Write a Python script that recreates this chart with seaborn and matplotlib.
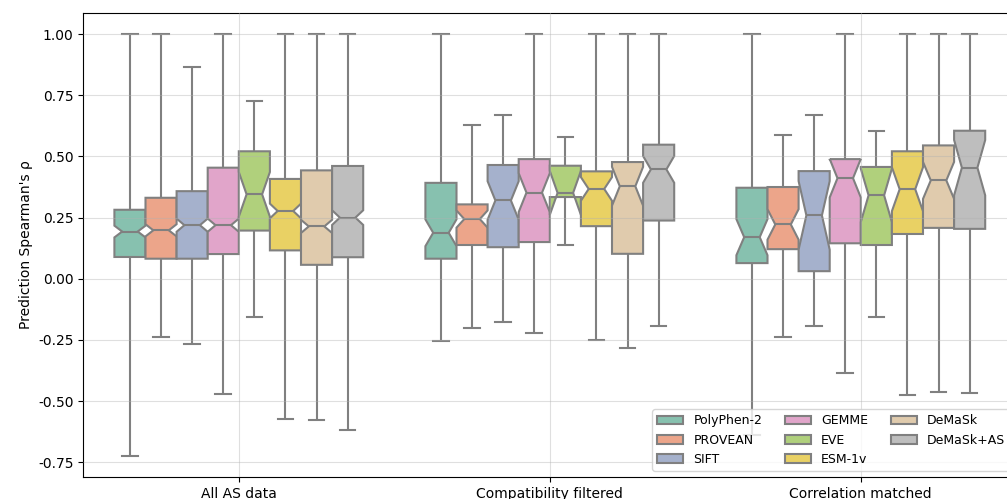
import numpy as np
import pandas as pd
import matplotlib
matplotlib.use("Agg")
import matplotlib.pyplot as plt
import seaborn as sns

# Dataset groups and predictors
groups = ["All AS data", "Compatibility filtered", "Correlation matched"]
methods = ["PolyPhen-2", "PROVEAN", "SIFT", "GEMME", "EVE", "ESM-1v", "DeMaSk", "DeMaSk+AS"]

# Per-protein Spearman summaries, one row per group, one column per method
rho_min = [
    [-0.724, -0.239, -0.265, -0.471, -0.155, -0.575, -0.579, -0.620],
    [-0.254, -0.203, -0.178, -0.223, 0.136, -0.249, -0.282, -0.192],
    [-0.640, -0.239, -0.192, -0.387, -0.155, -0.474, -0.464, -0.468],
]
rho_q1 = [
    [0.089, 0.082, 0.082, 0.101, 0.197, 0.116, 0.057, 0.088],
    [0.082, 0.138, 0.129, 0.150, 0.334, 0.215, 0.102, 0.238],
    [0.064, 0.121, 0.031, 0.145, 0.138, 0.183, 0.208, 0.204],
]
rho_median = [
    [0.193, 0.198, 0.219, 0.219, 0.345, 0.277, 0.214, 0.250],
    [0.188, 0.244, 0.320, 0.352, 0.351, 0.367, 0.378, 0.447],
    [0.170, 0.222, 0.259, 0.411, 0.341, 0.366, 0.402, 0.454],
]
rho_q3 = [
    [0.282, 0.331, 0.358, 0.454, 0.521, 0.408, 0.443, 0.461],
    [0.392, 0.304, 0.465, 0.489, 0.462, 0.439, 0.477, 0.548],
    [0.372, 0.375, 0.440, 0.489, 0.457, 0.521, 0.545, 0.605],
]
rho_max = [
    [1.000, 1.000, 0.864, 1.000, 0.726, 1.000, 1.000, 1.000],
    [1.000, 0.630, 0.671, 1.000, 0.579, 1.000, 1.000, 1.000],
    [1.000, 0.586, 0.671, 1.000, 0.605, 1.000, 1.000, 1.000],
]
# Number of proteins scored in each box
n_proteins = [
    [159, 245, 257, 421, 31, 233, 503, 381],
    [79, 55, 45, 45, 5, 53, 55, 79],
    [43, 41, 21, 47, 21, 35, 49, 31],
]

# Long-form table: each sample reproduces its box's five-number summary
rows = []
for gi, g in enumerate(groups):
    for mi, m in enumerate(methods):
        k = (n_proteins[gi][mi] - 3) // 2
        vals = np.concatenate([
            [rho_min[gi][mi]],
            np.full(k, rho_q1[gi][mi]),
            [rho_median[gi][mi]],
            np.full(k, rho_q3[gi][mi]),
            [rho_max[gi][mi]],
        ])
        rows.append(pd.DataFrame({"group": g, "method": m, "rho": vals}))
df = pd.concat(rows, ignore_index=True)

# Softened Set2 colours
base = [sns.desaturate(c, 0.75) for c in sns.color_palette("Set2", len(methods))]
palette = [tuple(0.85 * np.array(c) + 0.15) for c in base]

plt.rcParams["font.family"] = ["DejaVu Sans"]
plt.rcParams["font.size"] = 10

fig = plt.figure(figsize=(10.07, 4.99), dpi=100)
ax = fig.add_axes([83.3 / 1007, 22 / 499, 933 / 1007, 464 / 499])

sns.boxplot(
    data=df, x="group", y="rho", hue="method",
    order=groups, hue_order=methods,
    palette=palette, saturation=1,
    notch=True, whis=(0, 100), linewidth=1.5, linecolor="#808080",
    ax=ax,
)

ax.grid(True, color="#b0b0b0", alpha=0.4, linewidth=0.8)
ax.set_axisbelow(False)
ax.set_xlabel("")
ax.set_ylabel("Prediction Spearman's ρ")
ax.set_yticks([-0.75, -0.5, -0.25, 0.0, 0.25, 0.5, 0.75, 1.0])
ax.yaxis.set_major_formatter(matplotlib.ticker.FormatStrFormatter("%.2f"))

sns.move_legend(ax, "lower right", ncol=3, title=None, frameon=True,
                fontsize=9, handlelength=2.1, columnspacing=1.8)

fig.savefig("out.png", dpi=100)
